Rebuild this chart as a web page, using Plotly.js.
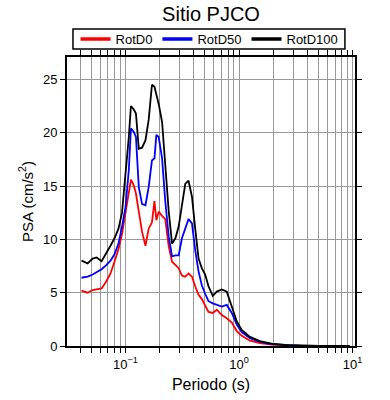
<!DOCTYPE html>
<html>
<head>
<meta charset="utf-8">
<script src="https://cdn.plot.ly/plotly-3.0.1.min.js"></script>
<style>html,body{margin:0;padding:0;background:#fff;}#chart{width:390px;height:400px;}</style>
</head>
<body>
<div id="chart"></div>
<script>
// Periods (s)
const periodo = [0.041, 0.0464, 0.0514, 0.0557, 0.0616, 0.0681, 0.0738, 0.080, 0.0868, 0.0932,
  0.100, 0.107, 0.1117, 0.118, 0.1236, 0.131, 0.140, 0.150, 0.160, 0.171,
  0.180, 0.187, 0.196, 0.210, 0.224, 0.240, 0.257, 0.275, 0.294, 0.314,
  0.336, 0.359, 0.385, 0.411, 0.440, 0.470, 0.503, 0.538, 0.587, 0.637,
  0.705, 0.780, 0.863, 0.955, 1.056, 1.248, 1.527, 1.935, 2.62, 3.43, 5.1, 9.4];

const rotD0 = [5.2, 5.0, 5.25, 5.3, 5.4, 6.1, 6.8, 7.9, 9.1, 10.5,
  12.5, 14.8, 15.6, 15.1, 14.3, 12.6, 10.7, 9.4, 11.0, 11.6,
  13.6, 11.8, 12.6, 12.2, 11.9, 9.4, 7.9, 7.6, 7.3, 6.6,
  6.5, 6.8, 6.5, 5.6, 4.8, 4.4, 3.8, 3.2, 3.1, 3.4,
  2.9, 2.6, 2.2, 1.4, 0.95, 0.5, 0.28, 0.14, 0.05, 0.025, 0.01, 0.005];

const rotD50 = [6.4, 6.5, 6.7, 6.9, 7.2, 7.6, 8.0, 8.6, 9.6, 11.2,
  13.0, 16.5, 20.4, 20.1, 19.6, 14.9, 13.3, 13.2, 14.9, 17.4,
  17.6, 19.8, 19.6, 17.6, 13.6, 10.3, 8.4, 8.5, 8.5, 10.1,
  11.0, 11.9, 11.5, 9.0, 7.0, 5.7, 4.9, 4.2, 4.0, 3.85,
  3.7, 3.85, 3.1, 2.0, 1.3, 0.72, 0.38, 0.18, 0.07, 0.035, 0.015, 0.01];

const rotD100 = [8.0, 7.75, 8.2, 8.3, 7.95, 8.7, 9.4, 10.1, 11.0, 12.5,
  15.8, 19.6, 22.5, 22.2, 21.8, 18.5, 18.6, 19.3, 21.2, 24.5,
  24.3, 23.6, 22.7, 21.0, 17.1, 12.7, 9.6, 10.1, 11.2, 13.3,
  15.2, 15.5, 14.0, 11.0, 8.2, 7.3, 6.7, 5.6, 4.7, 5.1,
  5.3, 5.1, 3.8, 2.3, 1.5, 0.85, 0.45, 0.22, 0.08, 0.04, 0.02, 0.01];

const seriesNames = ['RotD0', 'RotD50', 'RotD100'];
const seriesColors = ['#ff0000', '#0000ff', '#000000'];

const xMajorVals = [0.1, 1, 10];
const xMajorText = ['10<sup>\u22121</sup>', '10<sup>0</sup>', '10<sup>1</sup>'];
const xMinorVals = [0.03, 0.04, 0.05, 0.06, 0.07, 0.08, 0.09,
  0.2, 0.3, 0.4, 0.5, 0.6, 0.7, 0.8, 0.9,
  2, 3, 4, 5, 6, 7, 8, 9];
const yTickVals = [0, 5, 10, 15, 20, 25];

const ys = [rotD0, rotD50, rotD100];
const traces = ys.map((y, i) => ({
  x: periodo, y: y, type: 'scatter', mode: 'lines',
  name: seriesNames[i],
  line: {color: seriesColors[i], width: 1.8}
}));

const font = 'Liberation Sans, Arial, Helvetica, sans-serif';
const gridCol = '#999999';
const layout = {
  width: 390, height: 400,
  margin: {l: 67, r: 35, t: 57, b: 54},
  paper_bgcolor: '#fff', plot_bgcolor: '#fff',
  font: {family: font, size: 13, color: '#000'},
  title: {text: 'Sitio PJCO', font: {size: 20, family: font, color: '#000'},
          x: 0.5, xref: 'paper', xanchor: 'center', y: 0.965, yref: 'container', yanchor: 'middle'},
  showlegend: true,
  legend: {orientation: 'h', x: 0.495, xanchor: 'center', y: 1.0623, yanchor: 'middle',
           borderwidth: 0, font: {size: 13, family: font},
           bgcolor: 'rgba(0,0,0,0)', itemwidth: 30},
  shapes: [{type: 'rect', xref: 'paper', yref: 'paper',
            x0: 0.0208, x1: 0.965, y0: 1.0277, y1: 1.0969,
            line: {color: '#000', width: 1.5}, fillcolor: 'rgba(0,0,0,0)', layer: 'above'}],
  xaxis: {
    type: 'log', range: [-1.515, 1.021],
    tickmode: 'array', tickvals: xMajorVals, ticktext: xMajorText,
    ticks: 'outside', ticklen: 5, tickwidth: 1, tickcolor: '#000',
    minor: {tickmode: 'array', tickvals: xMinorVals, ticks: 'outside', ticklen: 5,
            tickwidth: 1, tickcolor: '#000', showgrid: true, gridcolor: gridCol, gridwidth: 1},
    showline: true, linewidth: 2, linecolor: '#000', mirror: 'ticks',
    showgrid: true, gridcolor: gridCol, gridwidth: 1,
    zeroline: false, tickfont: {size: 13},
    title: {text: 'Periodo (s)', font: {size: 16, family: font}, standoff: 8}
  },
  yaxis: {
    range: [0, 27.1], tickmode: 'array', tickvals: yTickVals,
    ticks: 'outside', ticklen: 5, tickwidth: 1, tickcolor: '#000',
    showline: true, linewidth: 2, linecolor: '#000', mirror: 'ticks',
    showgrid: true, gridcolor: gridCol, gridwidth: 1,
    zeroline: false, tickfont: {size: 13},
    title: {text: 'PSA (cm/s<sup>2</sup>)', font: {size: 15, family: font}, standoff: 6}
  }
};

Plotly.newPlot('chart', traces, layout, {staticPlot: true, displayModeBar: false}).then(function (gd) {
  gd.querySelectorAll('.legend .legendlines path').forEach(function (p) {
    p.style.strokeWidth = '3.5px';
  });
});
</script>
</body>
</html>
